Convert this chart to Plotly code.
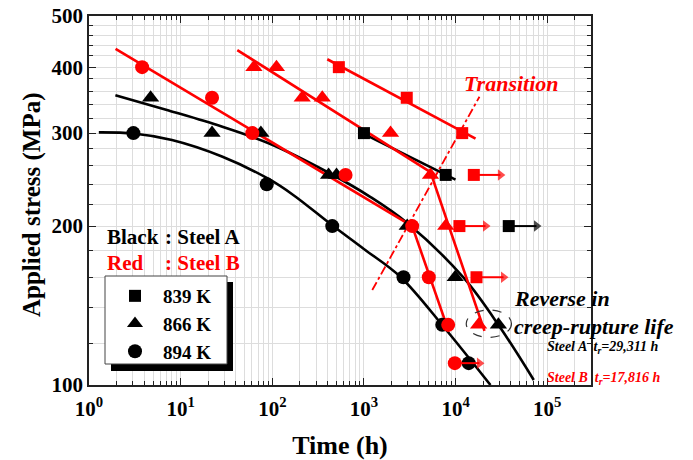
import numpy as np
import plotly.graph_objects as go

# ---------------- data (time in h, stress in MPa) ----------------
# Steel A (black)
A839_t = [1000, 7800, 38000]
A839_s = [300, 250, 200]
A866_t = [4.7, 22, 75, 411, 502, 2965, 9900, 29311]
A866_s = [350, 300, 300, 250, 250, 200, 160, 130]
A894_t = [3.05, 87, 451, 2700, 7150, 13900]
A894_s = [300, 240, 200, 160, 130, 110]
# Steel B (red)
B839_t = [532, 2930, 11800, 15800, 11000, 16900]
B839_s = [400, 350, 300, 250, 200, 160]
B866_t = [63, 111, 212, 351, 1950, 5320, 7800, 17816]
B866_s = [400, 400, 350, 350, 300, 250, 200, 130]
B894_t = [3.8, 22, 60.5, 630, 3360, 5100, 8300, 9800]
B894_s = [400, 350, 300, 250, 200, 160, 130, 110]

# fitted curves
A866_fit_t = [1.94, 7.40, 28.0, 91.2, 398, 1180, 2965, 12280, 30900, 71200]
A866_fit_s = [354, 331.1, 308.8, 287.0, 253.2, 227.0, 202.7, 159.5, 128.2, 102.2]
A894_fit_t = [1.28, 3.07, 8.04, 28.2, 91.2, 172, 432, 997, 2506, 7430, 24000]
A894_fit_s = [301, 299.5, 291.1, 270.9, 245.6, 228.6, 201.8, 181.0, 160.2, 128.8, 100]
A839_fit_t = [958, 9970]
A839_fit_s = [300, 245]
B839_fit_t = [398, 16500]
B839_fit_s = [414, 293]
B866_fit_t = [41.5, 5320, 20650]
B866_fit_s = [431, 253, 126.6]
B894_fit_t = [1.95, 3360, 8430]
B894_fit_s = [433, 200, 126.2]
trans_t = [1232, 18200]
trans_s = [151.3, 351.6]

# run-out arrows (start time, end time, stress, colour)
arrow_start = [38000, 15800, 11000, 16900, 9800]
arrow_end = [76300, 30800, 21200, 33300, 18200]
arrow_s = [200, 250, 200, 160, 110]
arrow_col = ["black", "red", "red", "red", "red"]

x_tickvals = [1, 10, 100, 1000, 10000, 100000]
x_ticktext = ["10<sup>0</sup>", "10<sup>1</sup>", "10<sup>2</sup>", "10<sup>3</sup>",
              "10<sup>4</sup>", "10<sup>5</sup>"]
y_tickvals = [100, 200, 300, 400, 500]
y_minor = [120, 140, 160, 180, 220, 240, 260, 280, 320, 340, 360, 380, 420, 440, 460, 480]

legend_names = ["839 K", "866 K", "894 K"]
legend_symbols = ["square", "triangle-up", "circle"]

# ---------------- figure ----------------
FONT = "Liberation Serif"
RED = "#ff0000"
fig = go.Figure()

def line(t, s, col, width=2.6, dash="solid", shape="linear"):
    fig.add_trace(go.Scatter(x=t, y=s, mode="lines", showlegend=False, hoverinfo="skip",
                             line=dict(color=col, width=width, dash=dash, shape=shape,
                                       smoothing=1.0)))

# black fit lines
line(A866_fit_t, A866_fit_s, "black", shape="spline")
line(A894_fit_t, A894_fit_s, "black", shape="spline")
line(A839_fit_t, A839_fit_s, "black")
# red fit lines
line(B839_fit_t, B839_fit_s, RED)
line(B866_fit_t, B866_fit_s, RED)
line(B894_fit_t, B894_fit_s, RED)
line(trans_t, trans_s, RED, width=1.8, dash="dashdot")

def pts(t, s, col, sym, size):
    fig.add_trace(go.Scatter(x=t, y=s, mode="markers", showlegend=False, hoverinfo="skip",
                             marker=dict(color=col, symbol=sym, size=size, line=dict(width=0))))

pts(A839_t, A839_s, "black", "square", 12)
pts(A866_t, A866_s, "black", "triangle-up", 15)
pts(A894_t, A894_s, "black", "circle", 14)
pts(B839_t, B839_s, RED, "square", 12)
pts(B866_t, B866_s, RED, "triangle-up", 15)
pts(B894_t, B894_s, RED, "circle", 14)

for t0, t1, s, c in zip(arrow_start, arrow_end, arrow_s, arrow_col):
    fig.add_trace(go.Scatter(x=[t0, t1], y=[s, s], mode="lines+markers", showlegend=False,
                             hoverinfo="skip", line=dict(color=c, width=2),
                             marker=dict(color=c, symbol=["circle", "triangle-right"],
                                         size=[0, 10], line=dict(width=0))))

# legend entries
for name, sym in zip(legend_names, legend_symbols):
    fig.add_trace(go.Scatter(x=[None], y=[None], mode="markers", name=name,
                             marker=dict(color="black", symbol=sym,
                                         size=14 if sym != "square" else 12)))

# ---------------- layout ----------------
W, H = 693, 460
PL, PR, PT, PB = 89, 591, 16, 385          # plot-area edges in picture pixels
L, T, R, B = PL, PT, W - PR, H - PB
pw, ph = PR - PL, PB - PT

def px(xp):
    return (xp - PL) / pw

def py(yp):
    return (PB - yp) / ph

axis_common = dict(
    showline=True, linecolor="#222", linewidth=1.5, mirror="allticks",
    ticks="inside", ticklen=7, tickwidth=1.3, tickcolor="#222",
    showgrid=True, gridcolor="#dddddd", gridwidth=1, zeroline=False,
    automargin=False, ticklabeloverflow="allow",
    tickfont=dict(family=FONT, size=21, color="black", weight="bold"),
)

fig.update_layout(
    width=W, height=H,
    margin=dict(l=L, r=R, t=T, b=B, pad=0),
    paper_bgcolor="white", plot_bgcolor="white",
    font=dict(family=FONT, color="black"),
    xaxis=dict(type="log", range=[0, np.log10(3e5)], tickmode="array",
               tickvals=x_tickvals, ticktext=x_ticktext,
               minor=dict(dtick="D1", ticks="inside", ticklen=4, tickcolor="#222",
                          showgrid=True, gridcolor="#dddddd", gridwidth=1),
               title=dict(text="Time (h)", standoff=17,
                          font=dict(family=FONT, size=26, weight="bold")),
               ticklabelstandoff=4,
               **axis_common),
    yaxis=dict(type="log", range=[2, np.log10(500)], tickmode="array",
               tickvals=y_tickvals,
               minor=dict(tickmode="array", tickvals=y_minor, ticks="inside", ticklen=4,
                          tickcolor="#222", showgrid=True, gridcolor="#dddddd", gridwidth=1),
               **axis_common),
    showlegend=True,
    legend=dict(x=px(107), y=py(277), xanchor="left", yanchor="top",
                bgcolor="rgba(0,0,0,0)", borderwidth=0, itemwidth=46,
                font=dict(family=FONT, size=19, color="black", weight="bold"),
                tracegroupgap=0),
)

# y-axis title
fig.add_annotation(text="Applied stress (MPa)", xref="paper", yref="paper",
                   x=px(32), y=py(205), xanchor="center", yanchor="middle",
                   textangle=-90, showarrow=False,
                   font=dict(family=FONT, size=25, color="black", weight="bold"))

# legend box with shadow
fig.add_shape(type="rect", xref="paper", yref="paper",
              x0=px(111), x1=px(233), y0=py(371), y1=py(282),
              fillcolor="black", line=dict(width=0), layer="above")
fig.add_shape(type="rect", xref="paper", yref="paper",
              x0=px(105), x1=px(227), y0=py(364), y1=py(276),
              fillcolor="white", line=dict(color="#444", width=1), layer="above")

# dashed ellipse around the reversed pair
fig.add_shape(type="circle", xref="x", yref="y", x0=13060, x1=40700, y0=123.1, y1=138.7,
              line=dict(color="#333", width=1.2, dash="dash"), layer="above")

def ann(text, xp, yp, size, color="black", italic=False, xanchor="left"):
    fig.add_annotation(text=text, xref="paper", yref="paper", x=px(xp), y=py(yp),
                       xanchor=xanchor, yanchor="middle", showarrow=False,
                       font=dict(family=FONT, size=size, color=color, weight="bold",
                                 style="italic" if italic else "normal"))

ann("Black", 105, 237, 21)
ann(": Steel A", 163, 237, 21)
ann("Red", 105, 263, 21, RED)
ann(": Steel B", 163, 263, 21, RED)
ann("Transition", 511, 83, 22, RED, italic=True, xanchor="center")
ann("Reverse in", 512, 298, 22, italic=True)
ann("creep-rupture life", 512, 326, 22, italic=True)
ann("Steel A  t<sub>r</sub>=29,311 h", 545, 347, 14, italic=True)
ann("Steel B  t<sub>r</sub>=17,816 h", 545, 378, 14, RED, italic=True)

# remove the default page margin so the figure fills the window exactly
fig.write_html("out.html", config={"displayModeBar": False},
               post_script="document.body.style.margin='0px';document.body.style.overflow='hidden';")
